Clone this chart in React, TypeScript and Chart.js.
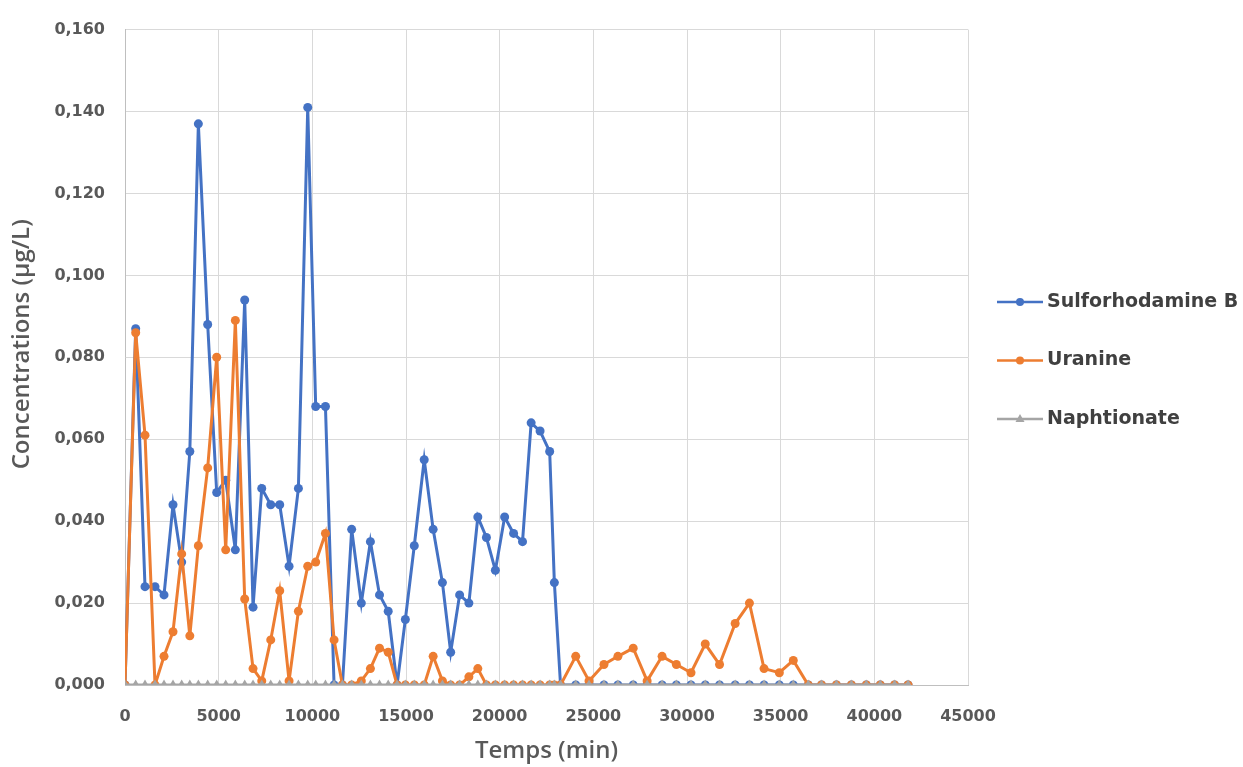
import React, { useEffect, useRef } from "react";
import { Chart, registerables } from "chart.js";

Chart.register(...registerables);

// Time (min)
const times = [
  0, 570, 1068, 1602, 2083, 2563, 3026, 3460, 3916, 4414, 4895, 5376, 5890, 6390, 6835, 7300,
  7779, 8259, 8758, 9256, 9754, 10180, 10700, 11160, 11606, 12100, 12615, 13100, 13586, 14050,
  14523, 14965, 15442, 15972, 16449, 16944, 17385, 17862, 18357, 18834, 19294, 19771, 20266,
  20743, 21220, 21680, 22157, 22670, 22920, 23250, 24060, 24770, 25567, 26312, 27128, 27872,
  28670, 29433, 30213, 30975, 31737, 32571, 33333, 34113, 34929, 35674, 36472, 37180, 37978,
  38776, 39573, 40318, 41080, 41800,
];

const sulforhodamineB = [
  0, 0.087, 0.024, 0.024, 0.022, 0.044, 0.030, 0.057, 0.137, 0.088, 0.047, 0.050, 0.033, 0.094,
  0.019, 0.048, 0.044, 0.044, 0.029, 0.048, 0.141, 0.068, 0.068, 0, 0, 0.038, 0.020, 0.035,
  0.022, 0.018, 0, 0.016, 0.034, 0.055, 0.038, 0.025, 0.008, 0.022, 0.020, 0.041, 0.036, 0.028,
  0.041, 0.037, 0.035, 0.064, 0.062, 0.057, 0.025, 0, 0, 0, 0, 0, 0, 0, 0, 0, 0, 0, 0, 0, 0, 0,
  0, 0, 0, 0, 0, 0, 0, 0, 0, 0,
];

const uranine = [
  0, 0.086, 0.061, 0, 0.007, 0.013, 0.032, 0.012, 0.034, 0.053, 0.080, 0.033, 0.089, 0.021,
  0.004, 0.001, 0.011, 0.023, 0.001, 0.018, 0.029, 0.030, 0.037, 0.011, 0, 0, 0.001, 0.004,
  0.009, 0.008, 0, 0, 0, 0, 0.007, 0.001, 0, 0, 0.002, 0.004, 0, 0, 0, 0, 0, 0, 0, 0, 0, 0,
  0.007, 0.001, 0.005, 0.007, 0.009, 0.001, 0.007, 0.005, 0.003, 0.010, 0.005, 0.015, 0.020,
  0.004, 0.003, 0.006, 0, 0, 0, 0, 0, 0, 0, 0,
];

const naphtionate = [
  0, 0, 0, 0, 0, 0, 0, 0, 0, 0, 0, 0, 0, 0, 0, 0, 0, 0, 0, 0, 0, 0, 0, 0, 0, 0, 0, 0, 0, 0, 0,
  0, 0, 0, 0, 0, 0, 0, 0, 0, 0, 0, 0, 0, 0, 0, 0, 0, 0, 0, 0, 0, 0, 0, 0, 0, 0, 0, 0, 0, 0, 0,
  0, 0, 0, 0, 0, 0, 0, 0, 0, 0, 0, 0,
];

const seriesNames = ["Sulforhodamine B", "Uranine", "Naphtionate"];
const seriesColors = ["#4472C4", "#ED7D31", "#A5A5A5"];

const xTitle = "Temps (min)";
const yTitle = "Concentrations (µg/L)";

const TEXT = "#595959";
const TICK_FONT = { family: "'DejaVu Sans', sans-serif", size: 16, weight: "bold" as const };
const TITLE_CSS = "600 24px 'Open Sans', sans-serif";

const legendAndTitlesPlugin = {
  id: "excelLegendTitles",
  afterDraw(chart: any) {
    const ctx = chart.ctx as CanvasRenderingContext2D;
    const area = chart.chartArea;
    ctx.save();
    // axis titles
    ctx.fillStyle = TEXT;
    ctx.font = TITLE_CSS;
    ctx.textAlign = "center";
    ctx.textBaseline = "middle";
    ctx.fillText(xTitle, (area.left + area.right) / 2, 751);
    ctx.save();
    ctx.translate(22, (area.top + area.bottom) / 2 - 13);
    ctx.rotate(-Math.PI / 2);
    ctx.fillText(yTitle, 0, 0);
    ctx.restore();

    // legend
    const x0 = 997;
    const x1 = 1043;
    const startY = 302;
    const gap = 58.5;
    chart.data.datasets.forEach((ds: any, i: number) => {
      const y = startY + i * gap;
      ctx.strokeStyle = ds.borderColor;
      ctx.lineWidth = 2.5;
      ctx.beginPath();
      ctx.moveTo(x0, y);
      ctx.lineTo(x1, y);
      ctx.stroke();
      ctx.fillStyle = ds.borderColor;
      const mx = (x0 + x1) / 2;
      ctx.beginPath();
      if (ds.pointStyle === "triangle") {
        ctx.moveTo(mx, y - 5);
        ctx.lineTo(mx + 4.5, y + 3);
        ctx.lineTo(mx - 4.5, y + 3);
        ctx.closePath();
      } else {
        ctx.arc(mx, y, 4, 0, Math.PI * 2);
      }
      ctx.fill();
      ctx.fillStyle = "#404040";
      ctx.font = "bold 19px 'DejaVu Sans', sans-serif";
      ctx.textBaseline = "middle";
      ctx.textAlign = "left";
      ctx.fillText(ds.label, x1 + 4, y);
    });
    ctx.restore();
  },
};

export default function App() {
  const canvasRef = useRef<HTMLCanvasElement | null>(null);

  useEffect(() => {
    if (!canvasRef.current) return;
    const mk = (vals: number[]) => times.map((t, i) => ({ x: t, y: vals[i] }));
    const common = {
      borderWidth: 3,
      pointBorderWidth: 0,
      tension: 0,
    };
    const chart = new Chart(canvasRef.current, {
      type: "line",
      data: {
        datasets: [
          {
            ...common,
            label: seriesNames[0],
            data: mk(sulforhodamineB),
            borderColor: seriesColors[0],
            backgroundColor: seriesColors[0],
            pointRadius: 4.5,
            pointStyle: "circle",
            order: 3,
          },
          {
            ...common,
            label: seriesNames[1],
            data: mk(uranine),
            borderColor: seriesColors[1],
            backgroundColor: seriesColors[1],
            pointRadius: 4.5,
            pointStyle: "circle",
            order: 2,
          },
          {
            ...common,
            label: seriesNames[2],
            data: mk(naphtionate),
            borderColor: seriesColors[2],
            backgroundColor: seriesColors[2],
            pointRadius: 5.5,
            pointStyle: "triangle",
            order: 1,
          },
        ],
      },
      options: {
        animation: false,
        responsive: false,
        maintainAspectRatio: false,
        layout: { padding: { top: 24, right: 275, left: 0, bottom: 0 } },
        plugins: {
          legend: { display: false },
          tooltip: { enabled: false },
        },
        scales: {
          x: {
            type: "linear",
            min: 0,
            max: 45000,
            ticks: {
              stepSize: 5000,
              color: TEXT,
              font: TICK_FONT,
              padding: 22,
              maxRotation: 0,
              callback: (v: any) => String(v),
            },
            grid: { color: "#d9d9d9", drawTicks: false, lineWidth: 1 },
            border: { color: "#bfbfbf" },
            afterFit: (s: any) => {
              s.height = 82;
            },
          },
          y: {
            type: "linear",
            min: 0,
            max: 0.16,
            ticks: {
              stepSize: 0.02,
              color: TEXT,
              font: TICK_FONT,
              padding: 20,
              callback: (v: any) => Number(v).toFixed(3).replace(".", ","),
            },
            grid: { color: "#d9d9d9", drawTicks: false, lineWidth: 1 },
            border: { color: "#bfbfbf" },
            afterFit: (s: any) => {
              s.width = 125;
            },
          },
        },
      },
      plugins: [legendAndTitlesPlugin],
    });
    return () => chart.destroy();
  }, []);

  return (
    <div style={{ position: "absolute", left: 0, top: 0, width: 1243, height: 767, background: "#fff" }}>
      <canvas ref={canvasRef} width={1243} height={767} style={{ width: 1243, height: 767 }} />
    </div>
  );
}
